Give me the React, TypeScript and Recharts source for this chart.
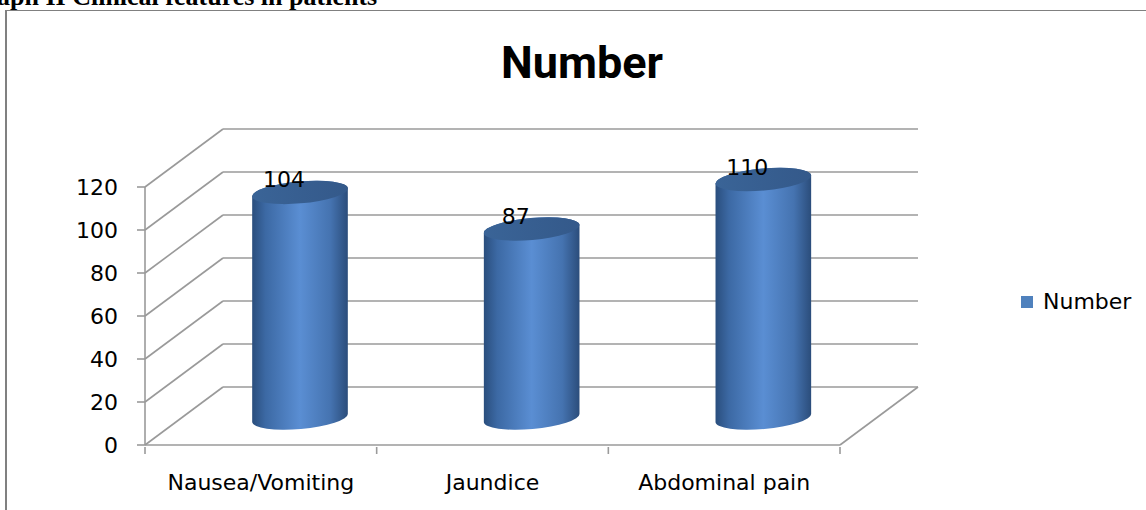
import React from "react";
import {
  Bar,
  BarChart,
  CartesianGrid,
  LabelList,
  Legend,
  XAxis,
  YAxis,
} from "recharts";

const categories = ["Nausea/Vomiting", "Jaundice", "Abdominal pain"];
const counts = [104, 87, 110];
const yTicks = [0, 20, 40, 60, 80, 100, 120];

const data = categories.map((name, i) => ({ name, Number: counts[i] }));

const W = 1146;
const H = 510;
const MARGIN = { top: 187, right: 306, bottom: 0, left: 0 };
const Y_WIDTH = 145;
const X_HEIGHT = 65;
const PLOT_W = W - MARGIN.left - MARGIN.right - Y_WIDTH;
const BAND = PLOT_W / categories.length;

// 3D depth offset of the back wall
const DX = 78;
const DY = -58;
const FONT = '"DejaVu Sans", "Noto Sans", sans-serif';
const FS = 22;
const GRID = "#9a9a9a";

const gridLine = (props: any) => {
  const { x1, y1, x2, y2, y, height } = props;
  const isFloor = Math.abs(y1 - (y + height)) < 1;
  return (
    <g key={props.key}>
      <line x1={x1} y1={y1} x2={x1 + DX} y2={y1 + DY} stroke={GRID} strokeWidth={1.6} />
      <line x1={x1 + DX} y1={y1 + DY} x2={x2 + DX} y2={y2 + DY} stroke={GRID} strokeWidth={1.6} />
      {isFloor && (
        <line x1={x2} y1={y2} x2={x2 + DX} y2={y2 + DY} stroke={GRID} strokeWidth={1.6} />
      )}
    </g>
  );
};

const rot = (-5 * Math.PI) / 180;

const Cylinder = (props: any) => {
  const { x, y, width, height } = props;
  if (!width || height == null) return null;
  const cx = x + width / 2 + DX / 2;
  const top = y + DY / 2;
  const bot = y + height + DY / 2 + 2;
  const rx = width / 2;
  const ry = 11;
  const ox = rx * Math.cos(rot);
  const oy = rx * Math.sin(rot);
  const body = [
    `M ${cx - ox} ${top - oy}`,
    `L ${cx - ox} ${bot - oy}`,
    `A ${rx} ${ry} -5 0 0 ${cx + ox} ${bot + oy}`,
    `L ${cx + ox} ${top + oy}`,
    `A ${rx} ${ry} -5 0 0 ${cx - ox} ${top - oy}`,
    "Z",
  ].join(" ");
  return (
    <g>
      <path d={body} fill="url(#cylBody)" />
      <ellipse
        cx={cx}
        cy={top}
        rx={rx}
        ry={ry}
        transform={`rotate(-5 ${cx} ${top})`}
        fill="url(#cylTop)"
      />
    </g>
  );
};

const valueLabel = (props: any) => {
  const { x, y, width, value } = props;
  return (
    <text
      x={x + width / 2 + DX / 2 - 16}
      y={y + DY / 2 - 5}
      textAnchor="middle"
      fontFamily={FONT}
      fontSize={FS}
      fill="#000"
    >
      {value}
    </text>
  );
};

const XTick = (props: any) => {
  const { x, y, payload, index } = props;
  return (
    <g>
      <line x1={x - BAND / 2} y1={y + 2} x2={x - BAND / 2} y2={y + 9} stroke={GRID} strokeWidth={1.6} />
      {index === categories.length - 1 && (
        <line x1={x + BAND / 2} y1={y + 2} x2={x + BAND / 2} y2={y + 9} stroke={GRID} strokeWidth={1.6} />
      )}
      <text
        x={x}
        y={y + 45}
        textAnchor="middle"
        fontFamily={FONT}
        fontSize={FS}
        fill="#000"
      >
        {payload.value}
      </text>
    </g>
  );
};

const LegendBox = () => (
  <div style={{ display: "flex", alignItems: "center", fontFamily: FONT, fontSize: FS }}>
    <span style={{ width: 12, height: 12, background: "#4f81bd", marginRight: 10 }} />
    <span style={{ color: "#000" }}>Number</span>
  </div>
);

export default function App() {
  return (
    <div
      style={{
        position: "fixed",
        left: 0,
        top: 0,
        width: W,
        height: H,
        overflow: "hidden",
        background: "#fff",
      }}
    >
      <svg
        width={W}
        height={H}
        style={{ position: "absolute", left: 0, top: 0 }}
      >
        <text
          x={-3}
          y={5}
          fontFamily='"Liberation Serif", serif'
          fontWeight="bold"
          fontSize={26}
          fill="#000"
        >
          aph II Clinical features in patients
        </text>
        <line x1={5} y1={10.5} x2={W} y2={10.5} stroke="#808080" strokeWidth={1} />
        <line x1={6} y1={10} x2={6} y2={H} stroke="#808080" strokeWidth={2} />
        <text
          x={582}
          y={78}
          textAnchor="middle"
          fontFamily="Roboto, sans-serif"
          fontWeight="bold"
          fontSize={45}
          fill="#000"
        >
          Number
        </text>
      </svg>
      <div style={{ position: "absolute", left: 0, top: 0 }}>
        <BarChart width={W} height={H} data={data} margin={MARGIN}>
          <defs>
            <linearGradient id="cylBody" x1="0" y1="0" x2="1" y2="0">
              <stop offset="0%" stopColor="#2a4e7d" />
              <stop offset="14%" stopColor="#3c69a4" />
              <stop offset="50%" stopColor="#5a8ed3" />
              <stop offset="82%" stopColor="#4573b0" />
              <stop offset="100%" stopColor="#2b4d7b" />
            </linearGradient>
            <linearGradient id="cylTop" x1="0" y1="0" x2="1" y2="0">
              <stop offset="0%" stopColor="#3a6497" />
              <stop offset="100%" stopColor="#34598a" />
            </linearGradient>
          </defs>
          <CartesianGrid vertical={false} horizontal={gridLine} />
          <XAxis
            dataKey="name"
            height={X_HEIGHT}
            axisLine={{ stroke: GRID, strokeWidth: 1.6 }}
            tickLine={false}
            tickSize={0}
            tickMargin={0}
            tick={<XTick />}
            interval={0}
          />
          <YAxis
            width={Y_WIDTH}
            domain={[0, 120]}
            ticks={yTicks}
            axisLine={{ stroke: GRID, strokeWidth: 1.6 }}
            tickLine={{ stroke: GRID, strokeWidth: 1.6 }}
            tickSize={8}
            tickMargin={19}
            tick={{ fill: "#000", fontSize: FS, fontFamily: FONT }}
          />
          <Legend
            layout="horizontal"
            verticalAlign="middle"
            align="center"
            content={<LegendBox />}
            wrapperStyle={{ left: 1021, top: 289, width: 125 }}
          />
          <Bar
            dataKey="Number"
            barSize={96}
            shape={<Cylinder />}
            isAnimationActive={false}
          >
            <LabelList dataKey="Number" content={valueLabel} />
          </Bar>
        </BarChart>
      </div>
    </div>
  );
}
